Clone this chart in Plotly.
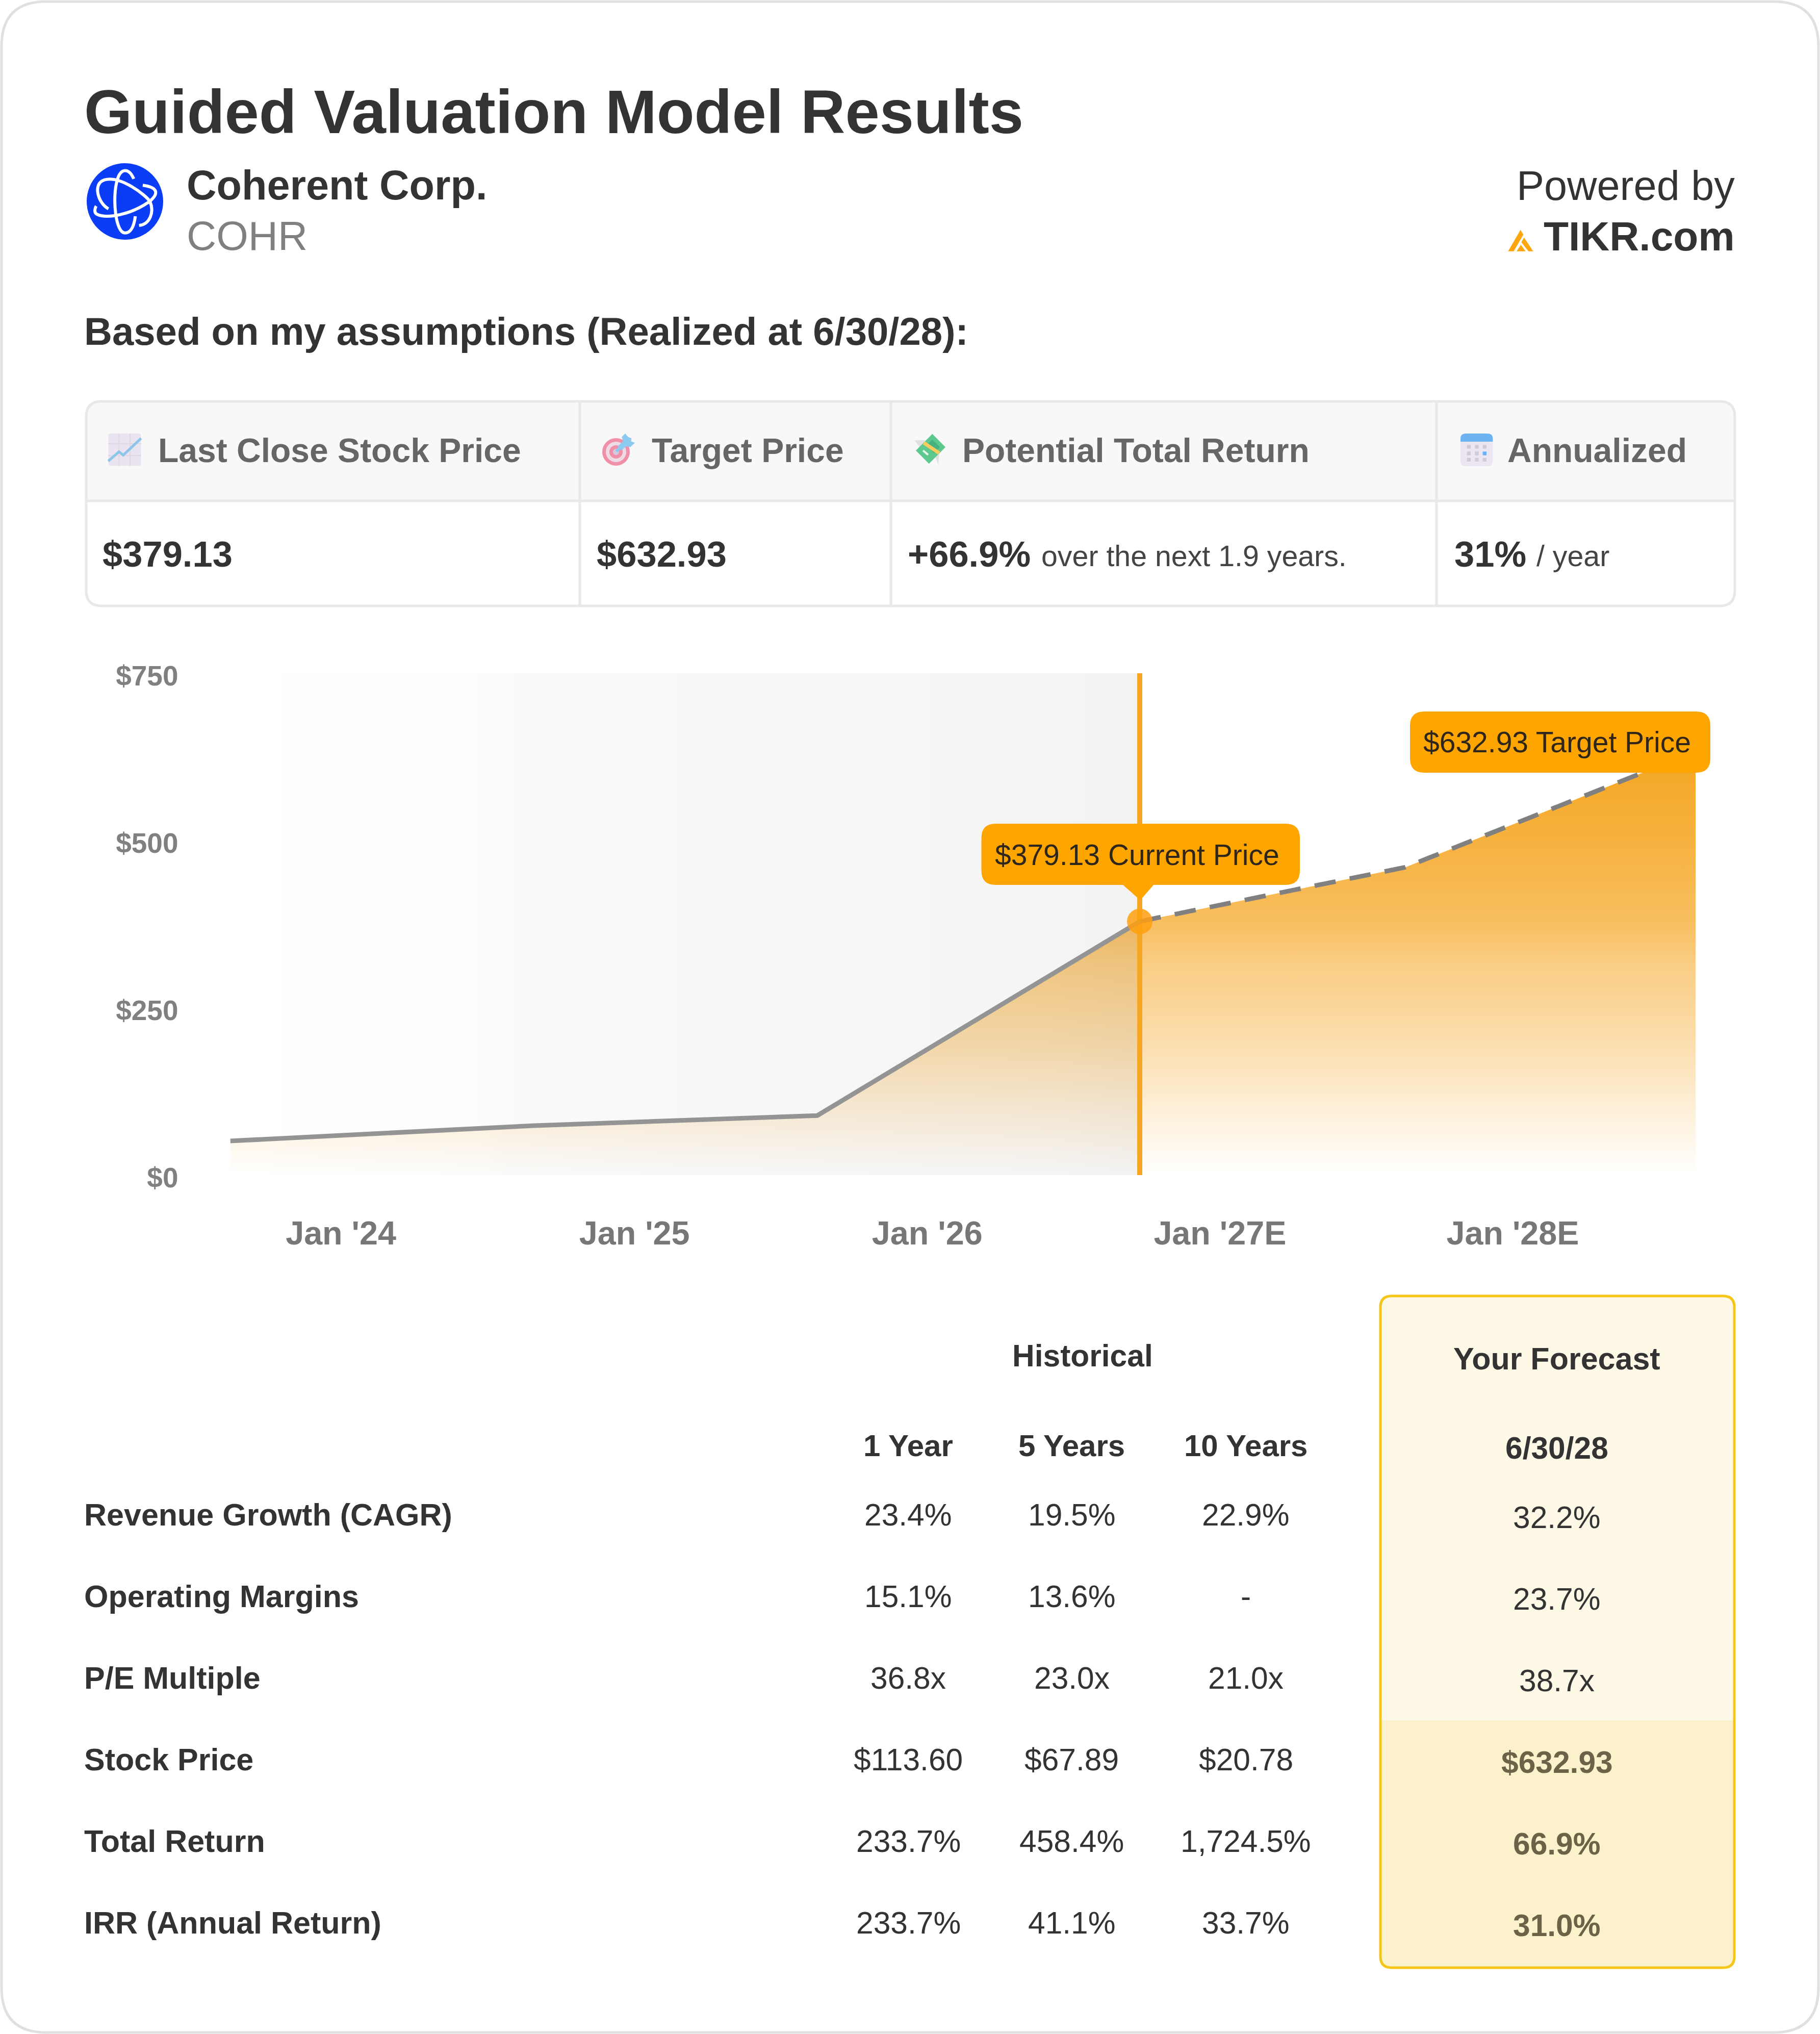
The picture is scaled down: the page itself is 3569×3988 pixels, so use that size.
import plotly.graph_objects as go

# ---------- data ----------
hist_dates = ["2023-08-16", "2024-08-29", "2025-08-17", "2026-09-23"]
hist_values = [51, 74, 89, 379.13]
fc_dates = ["2026-09-23", "2027-08-20", "2028-08-16"]
fc_values = [379.13, 460, 632.93]
x_tick_dates = ["2024-01-01", "2025-01-01", "2026-01-01", "2027-01-01", "2028-01-01"]
x_tick_text = ["Jan '24", "Jan '25", "Jan '26", "Jan '27E", "Jan '28E"]
y_tick_vals = [0, 250, 500, 750]
y_tick_text = ["$0", "$250", "$500", "$750"]

summary_heads = ["Last Close Stock Price", "Target Price", "Potential Total Return", "Annualized"]
summary_values = ["$379.13", "$632.93", "+66.9%", "31%"]
summary_notes = ["", "", "over the next 1.9 years.", "/ year"]

row_labels = ["Revenue Growth (CAGR)", "Operating Margins", "P/E Multiple", "Stock Price", "Total Return", "IRR (Annual Return)"]
hist_cols = ["1 Year", "5 Years", "10 Years"]
hist_1y = ["23.4%", "15.1%", "36.8x", "$113.60", "233.7%", "233.7%"]
hist_5y = ["19.5%", "13.6%", "23.0x", "$67.89", "458.4%", "41.1%"]
hist_10y = ["22.9%", "-", "21.0x", "$20.78", "1,724.5%", "33.7%"]
forecast = ["32.2%", "23.7%", "38.7x", "$632.93", "66.9%", "31.0%"]

# ---------- page geometry ----------
W, H = 3569, 3988
FONT = "Liberation Sans"
DARK = "#333333"
ORANGE = "#F5A623"
LABEL = "#FFA500"
PLOT_L, PLOT_R, PLOT_T, PLOT_B = 451.5, 3325, 1320, 2304


def pth(s, ox=0, oy=0, k=1.0):
    out, isx = [], True
    for t in s.split():
        if t.isalpha():
            out.append(t)
            isx = True
        else:
            v = float(t)
            if isx:
                out.append(f"{(ox + v * k) / W:.6f}")
            else:
                out.append(f"{1 - (oy + v * k) / H:.6f}")
            isx = not isx
    return " ".join(out)


def rrect(x0, y0, x1, y1, r, tl=True, tr=True, br=True, bl=True):
    s = f"M {x0 + (r if tl else 0)} {y0} L {x1 - (r if tr else 0)} {y0} "
    s += f"Q {x1} {y0} {x1} {y0 + r} " if tr else ""
    s += f"L {x1} {y1 - (r if br else 0)} "
    s += f"Q {x1} {y1} {x1 - r} {y1} " if br else ""
    s += f"L {x0 + (r if bl else 0)} {y1} "
    s += f"Q {x0} {y1} {x0} {y1 - r} " if bl else ""
    s += f"L {x0} {y0 + (r if tl else 0)} "
    s += f"Q {x0} {y0} {x0 + r} {y0} " if tl else ""
    return s + "Z"


shapes = []
ann = []


def S(path, fill=None, line=None, width=0, layer="below", ox=0, oy=0, k=1.0):
    shapes.append(dict(type="path", xref="paper", yref="paper", layer=layer, path=pth(path, ox, oy, k),
                       fillcolor=fill if fill else "rgba(0,0,0,0)",
                       line=dict(color=line if line else "rgba(0,0,0,0)", width=width)))


def C(cx, cy, r, fill, layer="below"):
    shapes.append(dict(type="circle", xref="paper", yref="paper", layer=layer,
                       x0=(cx - r) / W, x1=(cx + r) / W, y0=1 - (cy + r) / H, y1=1 - (cy - r) / H,
                       fillcolor=fill, line=dict(width=0)))


def T(text, x, y, size, color=DARK, bold=False, anchor="left"):
    ann.append(dict(text=text, x=x / W, y=1 - y / H, xref="paper", yref="paper", showarrow=False,
                    xanchor=anchor, yanchor="middle", borderpad=0,
                    font=dict(family=FONT, size=size, color=color, weight=700 if bold else 400)))


# card
S(rrect(3, 3, W - 3, H - 3, 88), fill="#FFFFFF", line="#E0E0E0", width=5)

# header text
T("Guided Valuation Model Results", 164, 219, 121, bold=True)
T("Coherent Corp.", 365, 363, 81, bold=True)
T("COHR", 365, 462, 80.5, color="#808080")
T("Powered by", 3403, 363.5, 81, anchor="right")
T("TIKR.com", 3403, 463, 80.3, bold=True, anchor="right")
T("Based on my assumptions (Realized at 6/30/28):", 164, 650, 76.1, bold=True)

# company logo
C(245, 395, 75, "#0A3DF5")
OX, OY, K = 130, 280, 1 / 3
for p in ["M 397 212 C 370 150 320 140 298 225 C 270 330 290 530 345 530 C 385 530 400 480 406 432",
          "M 248 388 C 190 360 150 240 225 218 C 320 190 470 310 492 345 C 520 410 490 480 428 486",
          "M 450 250 C 540 262 550 300 480 352 C 380 420 240 450 180 420 C 160 410 170 380 176 372"]:
    S(p, line="#FFFFFF", width=6, ox=OX, oy=OY, k=K)

# TIKR logo
for p in ["M 172 278 L 245 152 L 262 180 L 205 278 Z",
          "M 250 225 L 266 197 L 320 278 L 292 278 Z",
          "M 222 278 L 247 240 L 275 278 Z"]:
    S(p, fill="#FFA50F", ox=2900, oy=400, k=1 / 3)

# summary table
TL, TR, TT, TM, TB = 169, 3402, 787, 982, 1188
col_x = [1137, 1747, 2817]
S(rrect(TL, TT, TR, TM, 30, br=False, bl=False), fill="#F8F8F8")
S(rrect(TL, TT, TR, TB, 30), line="#E8E8E8", width=5)
S(f"M {TL} {TM} L {TR} {TM}", line="#E8E8E8", width=5)
for cx in col_x:
    S(f"M {cx} {TT} L {cx} {TB}", line="#E8E8E8", width=5)

head_x = [309, 1277, 1886, 2955]
val_x = [200, 1169, 1779, 2851]
note_x = [0, 0, 2041, 3012]
for h, hx, v, vx, n, nx in zip(summary_heads, head_x, summary_values, val_x, summary_notes, note_x):
    T(h, hx, 883, 66, color="#666666", bold=True)
    T(v, vx, 1086, 70.5, bold=True)
    if n:
        T(n, nx, 1090, 57.3, color="#444444")

# summary icons
OX, OY = 180, 820
S("M 110 90 L 275 90 Q 290 90 290 105 L 290 265 Q 290 280 275 280 L 112 280 Q 97 280 97 265 L 97 105 Q 97 90 110 90 Z",
  fill="#E9E4EF", ox=OX, oy=OY, k=K)
for g in ["M 160 90 L 160 280", "M 225 90 L 225 280", "M 97 150 L 290 150", "M 97 220 L 290 220"]:
    S(g, line="#DDD8E2", width=2, ox=OX, oy=OY, k=K)
S("M 97 252 L 160 197 L 185 217 L 290 118", line="#8CC4EA", width=5, ox=OX, oy=OY, k=K)

C(1208, 886, 27, "#EF8FA8")
C(1208, 886, 20, "#EFDBE5")
C(1208, 886, 13, "#EF8FA8")
C(1208, 886, 6, "#D3CBDD")
OX, OY = 1150, 820
S("M 175 195 L 240 135", line="#8CCAF0", width=6, ox=OX, oy=OY, k=K)
S("M 185 165 L 215 135 L 208 110 L 228 90 L 245 110 L 265 118 L 262 135 L 285 145 L 258 170 L 235 165 L 205 190 Z",
  fill="#8CCAF0", ox=OX, oy=OY, k=K)

OX, OY = 1760, 820
S("M 100 130 L 165 130 L 130 170 Z", fill="#E0E0E0", ox=OX, oy=OY, k=K)
S("M 215 205 L 245 205 L 240 275 Z", fill="#E0E0E0", ox=OX, oy=OY, k=K)
S("M 205 92 L 282 170 L 185 268 L 108 190 Z", fill="#5DC98F", ox=OX, oy=OY, k=K)
S("M 205 125 L 250 170 L 215 205 L 170 160 Z", fill="#45B27F", ox=OX, oy=OY, k=K)
S("M 155 145 L 245 205", line="#F9CD5D", width=7, ox=OX, oy=OY, k=K)
S("M 150 190 L 180 215", line="#E6F7EC", width=4, ox=OX, oy=OY, k=K)

OX, OY = 2840, 820
S(rrect(72, 90, 262, 282, 30), fill="#ECE6F3", ox=OX, oy=OY, k=K)
S(rrect(72, 90, 262, 138, 30, br=False, bl=False), fill="#6DB3F2", ox=OX, oy=OY, k=K)
for ix, gx in enumerate([110, 157, 203]):
    for iy, gy in enumerate([157, 196, 233]):
        color = "#6DB3F2" if (ix, iy) == (2, 1) else "#CFCBD6"
        S(rrect(gx, gy, gx + 22, gy + 22, 2), fill=color, ox=OX, oy=OY, k=K)

# chart labels (pointer boxes)
S(rrect(1924.5, 1615, 2549, 1735, 28), fill=LABEL, layer="above")
S("M 2201 1734 L 2263 1734 L 2236 1765 Z", fill=LABEL, layer="above")
S(rrect(2765, 1395, 3354, 1515, 28), fill=LABEL, layer="above")
T("$379.13 Current Price", 2230, 1676, 57, color="#2E2618", anchor="center")
T("$632.93 Target Price", 3053, 1455, 57, color="#2E2618", anchor="center")

# lower table
T("Historical", 2123, 2658, 60.5, bold=True, anchor="center")
S(rrect(2707, 2541, 3401, 3858, 22), fill="#FEF9E7")
S(rrect(2707, 3373, 3401, 3858, 22, tl=False, tr=False), fill="#FBF2CC")
S(rrect(2707, 2541, 3401, 3858, 22), line="#F5C518", width=5)
T("Your Forecast", 3053, 2664, 61, bold=True, anchor="center")

col_centers = [1781, 2101.5, 2443]
for name, cx in zip(hist_cols, col_centers):
    T(name, cx, 2834, 60, bold=True, anchor="center")
T("6/30/28", 3053, 2839, 60.5, bold=True, anchor="center")

row_y = [2970, 3130, 3290, 3450, 3610, 3769.5]
for i, ry in enumerate(row_y):
    T(row_labels[i], 164, ry, 61, bold=True)
    for col, cx in zip([hist_1y, hist_5y, hist_10y], col_centers):
        T(col[i], cx, ry, 60.5, anchor="center")
    top3 = i >= 3
    T(forecast[i], 3053, ry + 5, 60.5, color="#6B6248" if top3 else DARK, bold=top3, anchor="center")

# ---------- chart ----------
fig = go.Figure()
fig.add_trace(go.Scatter(
    x=hist_dates + fc_dates[1:], y=hist_values + fc_values[1:],
    mode="none", fill="tozeroy",
    fillgradient=dict(type="vertical", start=0, stop=fc_values[-1],
                      colorscale=[[0, "rgba(245,166,35,0)"], [0.15, "rgba(245,166,35,0.17)"],
                                  [0.31, "rgba(245,166,35,0.37)"], [0.5, "rgba(245,166,35,0.56)"],
                                  [0.6, "rgba(245,166,35,0.73)"], [0.8, "rgba(245,166,35,0.88)"],
                                  [1, "rgba(245,166,35,1)"]]),
    hoverinfo="skip", showlegend=False))
# grey shade over the historical part
fig.add_trace(go.Scatter(
    x=[hist_dates[0], hist_dates[-1], hist_dates[-1], hist_dates[0], hist_dates[0]],
    y=[y_tick_vals[0], y_tick_vals[0], y_tick_vals[-1], y_tick_vals[-1], y_tick_vals[0]],
    mode="none", fill="toself",
    fillgradient=dict(type="horizontal",
                      colorscale=[[0, "rgba(20,20,40,0)"], [0.28, "rgba(20,20,40,0.012)"],
                                  [0.3, "rgba(20,20,40,0.02)"], [0.5, "rgba(20,20,40,0.03)"],
                                  [0.9, "rgba(20,20,40,0.043)"], [1, "rgba(20,20,40,0.055)"]]),
    hoverinfo="skip", showlegend=False))
fig.add_trace(go.Scatter(x=[hist_dates[-1], hist_dates[-1]], y=[y_tick_vals[0], y_tick_vals[-1]], mode="lines",
                         line=dict(color=ORANGE, width=10), hoverinfo="skip", showlegend=False))
fig.add_trace(go.Scatter(x=hist_dates, y=hist_values, mode="lines", cliponaxis=False,
                         line=dict(color="#949494", width=9), showlegend=False))
fig.add_trace(go.Scatter(x=fc_dates, y=fc_values, mode="lines", cliponaxis=False,
                         line=dict(color="#808080", width=9, dash="42px,28px"), showlegend=False))
fig.add_trace(go.Scatter(x=[hist_dates[-1]], y=[hist_values[-1]], mode="markers", cliponaxis=False,
                         marker=dict(size=50, color="rgba(255,160,15,0.85)"), showlegend=False))

fig.update_layout(
    width=W, height=H, margin=dict(l=0, r=0, t=0, b=0, pad=0, autoexpand=False),
    paper_bgcolor="#FFFFFF", plot_bgcolor="rgba(0,0,0,0)", showlegend=False,
    shapes=shapes, annotations=ann,
    xaxis=dict(type="date", domain=[PLOT_L / W, PLOT_R / W], range=[hist_dates[0], fc_dates[-1]],
               tickmode="array", tickvals=x_tick_dates, ticktext=x_tick_text,
               tickfont=dict(family=FONT, size=64.7, color="#777777", weight=700),
               ticks="outside", ticklen=57, tickcolor="rgba(0,0,0,0)", tickwidth=1,
               showgrid=False, zeroline=False, showline=False, automargin=False),
    yaxis=dict(domain=[1 - PLOT_B / H, 1 - PLOT_T / H], range=[y_tick_vals[0], y_tick_vals[-1]],
               tickmode="array", tickvals=y_tick_vals, ticktext=y_tick_text,
               tickfont=dict(family=FONT, size=55, color="#808080", weight=700),
               ticks="outside", ticklen=90, tickcolor="rgba(0,0,0,0)", tickwidth=1,
               ticklabelshift=5,
               showgrid=False, zeroline=False, showline=False, automargin=False),
)

fig.write_html("out.html", config=dict(displayModeBar=False), post_script="document.body.style.margin='0';")
